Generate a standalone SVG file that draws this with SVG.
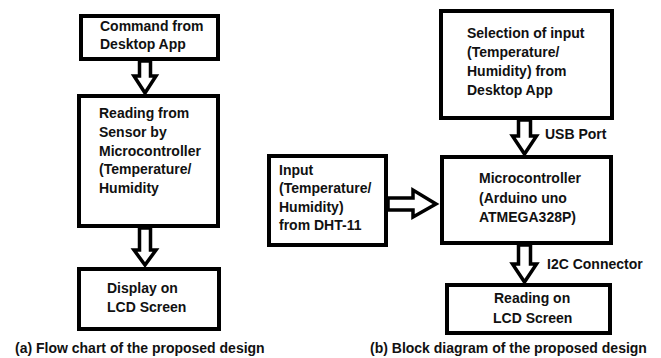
<svg xmlns="http://www.w3.org/2000/svg" width="661" height="358" viewBox="0 0 661 358">
<style>
.box{fill:#fff;stroke:#000;stroke-width:4}
.arr{fill:#fff;stroke:#000;stroke-width:3.5;stroke-linejoin:miter}
text{font-family:"Liberation Sans",Arial,sans-serif;font-weight:bold;font-size:14px;fill:#111}
</style>
<rect width="661" height="358" fill="#fff"/>
<g id="connectors">
<polygon class="arr" points="139.5,61 139.5,76 134,76 145,93 156,76 150.5,76 150.5,61"/>
<polygon class="arr" points="139.5,228 139.5,250 134,250 145,265 156,250 150.5,250 150.5,228"/>
<polygon class="arr" points="388,198 413,198 413,190 436,204 413,217 413,210 388,210"/>
<polygon class="arr" points="518.5,120 518.5,136 512.5,136 524.5,154 536.5,136 530.5,136 530.5,120"/>
<polygon class="arr" points="518.5,245 518.5,264 512.5,264 524.5,282 536.5,264 530.5,264 530.5,245"/>
<text x="545" y="139">USB Port</text>
<text x="547" y="269">I2C Connector</text>
</g>
<g id="n1"><rect class="box" x="81" y="16" width="137" height="43"/>
<text x="100" y="31">Command from</text><text x="100" y="49">Desktop App</text></g>
<g id="n2"><rect class="box" x="79" y="96" width="139" height="130"/>
<text x="99" y="118">Reading from</text><text x="99" y="137">Sensor by</text><text x="99" y="156">Microcontroller</text><text x="99" y="174">(Temperature/</text><text x="99" y="193">Humidity</text></g>
<g id="n3"><rect class="box" x="79" y="269" width="140" height="60"/>
<text x="107" y="293">Display on</text><text x="107" y="312">LCD Screen</text></g>
<g id="n4"><rect class="box" x="269" y="156" width="117" height="89"/>
<text x="279" y="175">Input</text><text x="279" y="193">(Temperature/</text><text x="279" y="212">Humidity)</text><text x="279" y="230">from DHT-11</text></g>
<g id="n5"><rect class="box" x="441" y="11" width="171" height="107"/>
<text x="467" y="38">Selection of input</text><text x="467" y="57">(Temperature/</text><text x="467" y="76">Humidity) from</text><text x="467" y="95">Desktop App</text></g>
<g id="n6"><rect class="box" x="442" y="157" width="169" height="86"/>
<text x="479" y="183">Microcontroller</text><text x="479" y="203">(Arduino uno</text><text x="479" y="222">ATMEGA328P)</text></g>
<g id="n7"><rect class="box" x="447" y="285" width="163" height="48"/>
<text x="494" y="303">Reading on</text><text x="493" y="323">LCD Screen</text></g>
<g id="captions">
<text x="15" y="353">(a) Flow chart of the proposed design</text>
<text x="370" y="353">(b) Block diagram of the proposed design</text>
</g>
</svg>
